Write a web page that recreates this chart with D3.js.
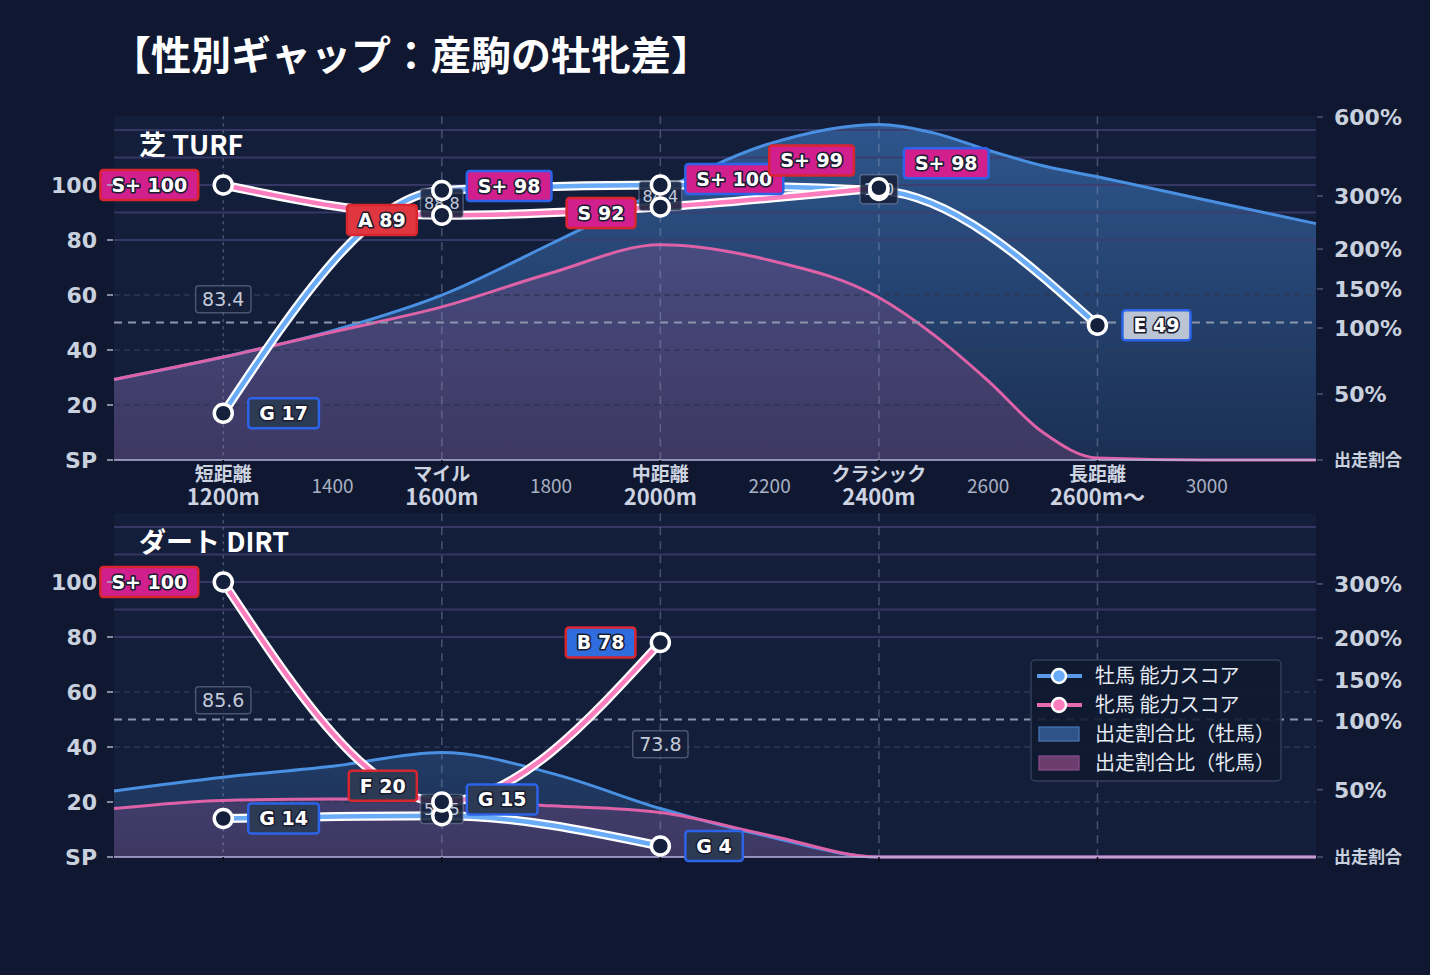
<!DOCTYPE html>
<html>
<head>
<meta charset="utf-8">
<script src="https://d3js.org/d3.v7.min.js"></script>
<style>
  body { margin: 0; background: #0f1830; }
  svg { display: block; }
</style>
</head>
<body>
<svg id="chart" width="1430" height="975"></svg>
<script>
// categories / x axis
var categories = ["短距離", "マイル", "中距離", "クラシック", "長距離"];
var categoryDist = [1200, 1600, 2000, 2400, 2800];
var categorySub = ["1200m", "1600m", "2000m", "2400m", "2600m〜"];
var minorDist = [1400, 1800, 2200, 2600, 3000];
var shareDist = [1000, 1200, 1400, 1600, 1800, 2000, 2200, 2400, 2500, 2600, 2700, 2800, 3000, 3200];
var scoreTicks = [0, 20, 40, 60, 80, 100];

// turf
var turfMaleScore = [17, 98, 100, 98, 49];
var turfMaleGrade = ["G", "S+", "S+", "S+", "E"];
var turfFemaleScore = [100, 89, 92, 99, null];
var turfFemaleGrade = ["S+", "A", "S", "S+", null];
var turfMidValue = ["83.4", "88.8", "84.4", "100", null];
var turfMaleShare = [61, 78, 98, 142, 210, 320, 499, 572, 540, 474, 415, 373, 292, 248];
var turfFemaleShare = [61, 78, 97, 127, 170, 208, 186, 139, 95, 60, 21, 1.5, 0, 0];
var turfRatioTicks = [0, 50, 100, 150, 200, 300, 600];

// dirt
var dirtMaleScore = [14, 15, 4, null, null];
var dirtMaleGrade = ["G", "G", "G", null, null];
var dirtFemaleScore = [100, 20, 78, null, null];
var dirtFemaleGrade = ["S+", "F", "B", null, null];
var dirtMidValue = ["85.6", "52.5", "73.8", null, null];
var dirtMaleShare = [49, 59, 67, 77, 62, 36, 15, 0, 0, 0, 0, 0, 0, 0];
var dirtFemaleShare = [36, 42, 43, 42, 38, 33, 16, 0, 0, 0, 0, 0, 0, 0];
var dirtRatioTicks = [0, 50, 100, 150, 200, 300];

var latin = "'DejaVu Sans', 'Noto Sans CJK JP', sans-serif";
var cjk = "'Noto Sans CJK JP', 'Noto Sans', sans-serif";

var gradeFill = {
  "S+": "#d11f8e", "S": "#d11f8e", "A": "#e0363f", "B": "#2f6ddf",
  "C": "#3aa36a", "D": "#8a8f3a", "E": "#bac4d4", "F": "#2d3a54", "G": "#2d3a54"
};
var maleBorder = "#2c63e8";
var femaleBorder = "#d8262f";

var svg = d3.select("#chart");
var defs = svg.append("defs");

svg.append("rect").attr("width", 1430).attr("height", 975).attr("fill", "#0f1830");

svg.append("text")
  .attr("x", 111).attr("y", 70)
  .attr("fill", "#ffffff")
  .style("font-family", cjk).style("font-weight", 700).style("font-size", "40px")
  .text("【性別ギャップ：産駒の牡牝差】");

var x = d3.scaleLinear().domain([1000, 3200]).range([114, 1316]);

var panels = [{
    title: "芝 TURF", top: 116, base: 460,
    maleScore: turfMaleScore, maleGrade: turfMaleGrade,
    femaleScore: turfFemaleScore, femaleGrade: turfFemaleGrade,
    mid: turfMidValue, maleShare: turfMaleShare, femaleShare: turfFemaleShare,
    ratioTicks: turfRatioTicks, ratioUnits: [0, 24, 48, 62.2, 76.7, 96, 124.7],
    xLabels: true, legend: false
  },
  {
    title: "ダート DIRT", top: 513, base: 857,
    maleScore: dirtMaleScore, maleGrade: dirtMaleGrade,
    femaleScore: dirtFemaleScore, femaleGrade: dirtFemaleGrade,
    mid: dirtMidValue, maleShare: dirtMaleShare, femaleShare: dirtFemaleShare,
    ratioTicks: dirtRatioTicks, ratioUnits: [0, 24.5, 49.5, 64.4, 79.6, 99.3],
    xLabels: false, legend: true
  }
];

function labelShift(maleY, femaleY) {
  if (maleY == null || femaleY == null) return [0, 0];
  var d = femaleY - maleY;
  if (d < 0 && d > -30) return [-(30 + d), -(30 + d)];
  if (d >= 0 && d < 34) return [-(34 - d) / 2, (34 - d) / 2];
  return [0, 0];
}

function scoreLabel(g, px, py, grade, score, side, border) {
  var lab = g.append("g");
  var t = lab.append("text")
    .attr("y", py).attr("dy", "0.36em")
    .attr("text-anchor", "middle")
    .attr("fill", "#ffffff")
    .attr("stroke", "#1a1d30").attr("stroke-width", 3.2)
    .attr("paint-order", "stroke").attr("stroke-linejoin", "round")
    .style("font-family", latin).style("font-weight", 700).style("font-size", "19px")
    .text(grade + " " + score);
  var w = t.node().getComputedTextLength() + 22;
  var bx = side == "right" ? px + 25 : px - 25 - w;
  lab.insert("rect", "text")
    .attr("x", bx).attr("y", py - 15)
    .attr("width", w).attr("height", 30)
    .attr("rx", 3)
    .attr("fill", gradeFill[grade])
    .attr("stroke", border).attr("stroke-width", 2.5);
  t.attr("x", bx + w / 2);
}

panels.forEach(function(p, pi) {
  var y = d3.scaleLinear().domain([0, 125]).range([p.base, p.base - 343.75]);
  var r = d3.scaleLinear().domain(p.ratioTicks).range(p.ratioUnits.map(y));
  var g = svg.append("g");

  g.append("rect")
    .attr("x", 114).attr("y", y(125))
    .attr("width", 1202).attr("height", p.base - y(125))
    .attr("fill", "#131e3a");

  var grad = defs.append("linearGradient")
    .attr("id", "maleFill" + pi)
    .attr("gradientUnits", "userSpaceOnUse")
    .attr("x1", 0).attr("x2", 0).attr("y1", y(125)).attr("y2", p.base);
  grad.append("stop").attr("offset", 0).attr("stop-color", "#4a90e2").attr("stop-opacity", 0.5);
  grad.append("stop").attr("offset", 1).attr("stop-color", "#4a90e2").attr("stop-opacity", 0.15);

  var maleShare = shareDist.map(function(d, i) { return { d: d, v: p.maleShare[i] }; });
  var femaleShare = shareDist.map(function(d, i) { return { d: d, v: p.femaleShare[i] }; });

  var area = d3.area()
    .x(function(d) { return x(d.d); })
    .y0(p.base)
    .y1(function(d) { return r(d.v); })
    .curve(d3.curveMonotoneX);
  var areaLine = area.lineY1();

  g.append("path").attr("d", area(maleShare)).attr("fill", "url(#maleFill" + pi + ")");
  g.append("path").attr("d", area(femaleShare)).attr("fill", "rgba(224,96,168,0.18)");

  // horizontal grid
  [80, 90, 100, 110, 120].forEach(function(v) {
    g.append("line").attr("x1", 114).attr("x2", 1316).attr("y1", y(v)).attr("y2", y(v))
      .attr("stroke", "#3c3d6c").attr("stroke-width", 2).attr("opacity", 0.85);
  });
  [20, 40, 60].forEach(function(v) {
    g.append("line").attr("x1", 114).attr("x2", 1316).attr("y1", y(v)).attr("y2", y(v))
      .attr("stroke", "#2c3856").attr("stroke-width", 1.5).attr("stroke-dasharray", "6,4");
  });

  // vertical grid
  categoryDist.forEach(function(d, i) {
    g.append("line").attr("x1", x(d)).attr("x2", x(d)).attr("y1", y(125)).attr("y2", p.base)
      .attr("stroke", "rgba(150,160,195,0.4)").attr("stroke-width", 1.5)
      .attr("stroke-dasharray", i == 0 ? "3,4" : "8,6");
  });

  g.append("path").attr("d", areaLine(maleShare)).attr("fill", "none")
    .attr("stroke", "#4a90e2").attr("stroke-width", 3);
  g.append("path").attr("d", areaLine(femaleShare)).attr("fill", "none")
    .attr("stroke", "#de62a8").attr("stroke-width", 3);

  // 100% reference
  g.append("line").attr("x1", 114).attr("x2", 1316).attr("y1", y(50)).attr("y2", y(50))
    .attr("stroke", "#8d95ad").attr("stroke-width", 2).attr("stroke-dasharray", "8,6");

  g.append("line").attr("x1", 114).attr("x2", 1316).attr("y1", p.base).attr("y2", p.base)
    .attr("stroke", "#b9b5df").attr("stroke-width", 1.5);

  // score lines
  var line = d3.line()
    .x(function(d) { return x(d.d); })
    .y(function(d) { return y(d.v); })
    .curve(d3.curveMonotoneX);
  var male = categoryDist.map(function(d, i) { return { d: d, v: p.maleScore[i] }; })
    .filter(function(d) { return d.v != null; });
  var female = categoryDist.map(function(d, i) { return { d: d, v: p.femaleScore[i] }; })
    .filter(function(d) { return d.v != null; });

  [[male, "#6aabf7"], [female, "#fb7dbd"]].forEach(function(s) {
    g.append("path").attr("d", line(s[0])).attr("fill", "none")
      .attr("stroke", "#ffffff").attr("stroke-width", 9).attr("stroke-linecap", "round");
    g.append("path").attr("d", line(s[0])).attr("fill", "none")
      .attr("stroke", s[1]).attr("stroke-width", 4.5).attr("stroke-linecap", "round");
  });

  // mid value boxes
  categoryDist.forEach(function(d, i) {
    if (p.mid[i] == null) return;
    var my = y(p.maleScore[i]), fy = y(p.femaleScore[i]);
    var cy = (my + fy) / 2;
    var small = Math.abs(my - fy) < 40;
    var mg = g.append("g");
    var t = mg.append("text")
      .attr("x", x(d)).attr("y", cy).attr("dy", "0.36em")
      .attr("text-anchor", "middle")
      .attr("fill", "#c3cad9")
      .style("font-family", latin).style("font-size", small ? "16px" : "19px")
      .text(p.mid[i]);
    var w = t.node().getComputedTextLength() + (small ? 7 : 13);
    mg.insert("rect", "text")
      .attr("x", x(d) - w / 2).attr("y", cy - (small ? 14.5 : 13.5))
      .attr("width", w).attr("height", small ? 29 : 27).attr("rx", 3)
      .attr("fill", "rgba(22,32,58,0.88)")
      .attr("stroke", "rgba(140,150,182,0.45)").attr("stroke-width", 1.5);
  });

  // markers
  male.concat(female).forEach(function(d) {
    g.append("circle").attr("cx", x(d.d)).attr("cy", y(d.v)).attr("r", 9)
      .attr("fill", "#14203c").attr("stroke", "#ffffff").attr("stroke-width", 3.5);
  });

  // score labels
  categoryDist.forEach(function(d, i) {
    var ms = p.maleScore[i], fs = p.femaleScore[i];
    var sh = labelShift(ms == null ? null : y(ms), fs == null ? null : y(fs));
    if (ms != null) scoreLabel(g, x(d), y(ms) + sh[0], p.maleGrade[i], ms, "right", maleBorder);
    if (fs != null) scoreLabel(g, x(d), y(fs) + sh[1], p.femaleGrade[i], fs, "left", femaleBorder);
  });

  // panel title
  g.append("text").attr("x", 139).attr("y", p.top + 39)
    .attr("fill", "#ffffff")
    .style("font-family", cjk).style("font-weight", 700).style("font-size", "27px")
    .text(p.title);

  // left axis
  scoreTicks.forEach(function(v) {
    g.append("line").attr("x1", 107).attr("x2", 113).attr("y1", y(v)).attr("y2", y(v))
      .attr("stroke", "#aab2c4").attr("stroke-width", 1.5);
    g.append("text").attr("x", 97).attr("y", y(v)).attr("dy", "0.36em")
      .attr("text-anchor", "end").attr("fill", "#c9d0de")
      .style("font-family", latin).style("font-weight", 700).style("font-size", "22px")
      .text(v == 0 ? "SP" : v);
  });

  // right axis
  p.ratioTicks.forEach(function(v) {
    g.append("line").attr("x1", 1317).attr("x2", 1323).attr("y1", r(v)).attr("y2", r(v))
      .attr("stroke", "#4c5572").attr("stroke-width", 1.5);
    g.append("text").attr("x", 1334).attr("y", r(v)).attr("dy", "0.36em")
      .attr("fill", "#c9d0de")
      .style("font-family", v == 0 ? cjk : latin).style("font-weight", 700)
      .style("font-size", v == 0 ? "17px" : "22px")
      .text(v == 0 ? "出走割合" : v + "%");
  });

  // x ticks
  categoryDist.forEach(function(d) {
    g.append("line").attr("x1", x(d)).attr("x2", x(d)).attr("y1", p.base).attr("y2", p.base + 5)
      .attr("stroke", "#070b16").attr("stroke-width", 1.5);
  });

  if (p.xLabels) {
    categoryDist.forEach(function(d, i) {
      var t = g.append("text").attr("text-anchor", "middle").attr("fill", "#cdd3e0")
        .style("font-family", cjk).style("font-weight", 700);
      t.append("tspan").attr("x", x(d)).attr("y", p.base + 21)
        .style("font-size", "19px").text(categories[i]);
      t.append("tspan").attr("x", x(d)).attr("y", p.base + 45)
        .style("font-size", "22px").text(categorySub[i]);
    });
    minorDist.forEach(function(d) {
      g.append("text").attr("x", x(d)).attr("y", p.base + 33)
        .attr("text-anchor", "middle").attr("fill", "#a9b1c4")
        .style("font-family", cjk).style("font-size", "19px")
        .text(d);
    });
  }

  if (p.legend) {
    var lg = g.append("g").attr("transform", "translate(1031,660)");
    lg.append("rect").attr("width", 250).attr("height", 121).attr("rx", 4)
      .attr("fill", "rgba(16,25,48,0.9)")
      .attr("stroke", "#343e58").attr("stroke-width", 1.5);
    var items = [
      { label: "牡馬 能力スコア", type: "line", color: "#5a9ae8", dot: "#6aabf7" },
      { label: "牝馬 能力スコア", type: "line", color: "#e76aae", dot: "#fb7dbd" },
      { label: "出走割合比（牡馬）", type: "rect", color: "#2f5288", edge: "#4a78b8" },
      { label: "出走割合比（牝馬）", type: "rect", color: "#6b3d6e", edge: "#8c4f90" }
    ];
    items.forEach(function(it, i) {
      var cy = 16 + i * 29;
      if (it.type == "line") {
        lg.append("line").attr("x1", 6).attr("x2", 51).attr("y1", cy).attr("y2", cy)
          .attr("stroke", it.color).attr("stroke-width", 4);
        lg.append("circle").attr("cx", 28).attr("cy", cy).attr("r", 7)
          .attr("fill", it.dot).attr("stroke", "#ffffff").attr("stroke-width", 2.5);
      } else {
        lg.append("rect").attr("x", 8).attr("y", cy - 7).attr("width", 40).attr("height", 14)
          .attr("fill", it.color).attr("stroke", it.edge).attr("stroke-width", 1.2);
      }
      lg.append("text").attr("x", 64).attr("y", cy).attr("dy", "0.36em")
        .attr("fill", "#e6eaf2")
        .style("font-family", cjk).style("font-size", "20px")
        .text(it.label);
    });
  }
});
</script>
</body>
</html>
